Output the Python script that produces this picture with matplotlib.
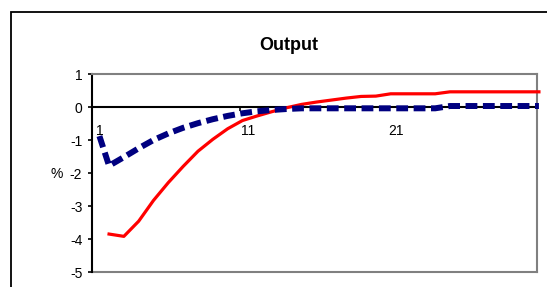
#Output response chart, two scenarios
import numpy as np
import matplotlib
matplotlib.use('Agg')
import matplotlib.pyplot as plt
from matplotlib.patches import Rectangle

plt.rcParams['font.family'] = ['Liberation Sans', 'DejaVu Sans']
plt.rcParams['axes.unicode_minus'] = False
plt.rcParams['lines.scale_dashes'] = False

#Data
periods = np.arange(1, 31)
red_vals = [-3.85, -3.92, -3.46, -2.83, -2.29, -1.80, -1.34, -0.98, -0.66, -0.41,
            -0.27, -0.14, -0.02, 0.08, 0.15, 0.21, 0.27, 0.32, 0.33, 0.40,
            0.40, 0.40, 0.40, 0.46, 0.46, 0.46, 0.46, 0.46, 0.46, 0.46]
blue_start = -0.88
blue_vals = [-1.78, -1.52, -1.25, -1.00, -0.80, -0.63, -0.49, -0.37, -0.27, -0.19,
             -0.13, -0.09, -0.06, -0.04, -0.04, -0.04, -0.04, -0.04, -0.04, -0.04,
             -0.04, -0.04, -0.04, 0.03, 0.03, 0.03, 0.03, 0.03, 0.03, 0.03]
x_labels = ['1', '11', '21']
x_label_pos = [1, 11, 21]
y_ticks = [1, 0, -1, -2, -3, -4, -5]

#lines sit a bit right of the category centres in the original
shift = 0.65

fig = plt.figure(figsize=(5.47, 2.87), dpi=100)
fig.patches.append(Rectangle((11/547, -0.1), 1.2, 1 - 12.5/287 + 0.1,
                             transform=fig.transFigure, fill=False,
                             edgecolor='black', lw=1.3))

ax = fig.add_axes([92/547, 1 - 272/287, (536.7 - 92)/547, (272 - 74)/287])
ax.set_xlim(0.5, 30.5)
ax.set_ylim(-5, 1)

ax.plot(periods + shift, red_vals, color='#FF0000', lw=2.3, clip_on=False, zorder=3)
ax.plot(np.r_[1, periods + shift], np.r_[blue_start, blue_vals], color='#000080',
        lw=4.3, dashes=(8.5, 4), dash_capstyle='butt', clip_on=False, zorder=4)

for s in ['top', 'right']:
    ax.spines[s].set_color('#808080')
    ax.spines[s].set_linewidth(1.5)
ax.spines['left'].set_color('black')
ax.spines['left'].set_linewidth(1.5)
ax.spines['bottom'].set_position(('data', 0))
ax.spines['bottom'].set_color('black')
ax.spines['bottom'].set_linewidth(1.5)
ax.axhline(-5, color='#808080', lw=1.5, clip_on=False, zorder=1)

ax.set_yticks(y_ticks)
ax.set_yticklabels([str(v) for v in y_ticks], fontsize=10)
ax.tick_params(axis='y', direction='out', length=3, width=1.2, pad=4)

ax.set_xticks(x_label_pos)
ax.set_xticklabels(x_labels, fontsize=10)
ax.set_xticks([10.5, 20.5, 30.5], minor=True)
ax.tick_params(axis='x', which='major', length=0, pad=12)
ax.tick_params(axis='x', which='minor', direction='out', length=3, width=1.2)

fig.text(289/547, 1 - 45/287, 'Output', ha='center', va='center',
         fontsize=13, fontweight='bold')
fig.text(57/547, 1 - 174/287, '%', ha='center', va='center', fontsize=10)

fig.savefig('out.png', dpi=100)
